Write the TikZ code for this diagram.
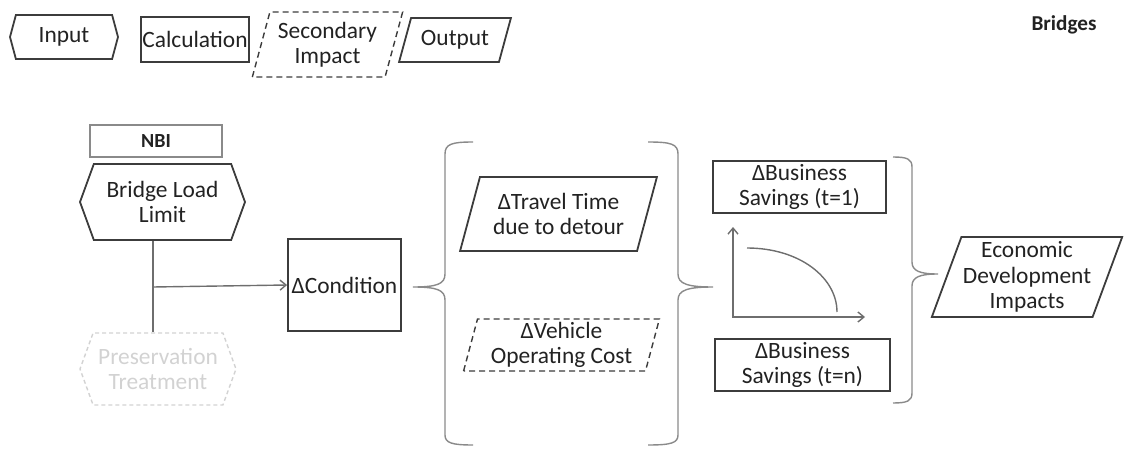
\documentclass[tikz,border=0pt]{standalone}
\usepackage{fontspec}
\setmainfont{Carlito}
\usetikzlibrary{shapes.geometric,shapes.symbols,arrows.meta}

\definecolor{ink}{HTML}{222222}
\definecolor{edge}{HTML}{3C3C3C}
\definecolor{soft}{HTML}{8A8A8A}
\definecolor{faint}{HTML}{D2D2D2}

\tikzset{
  txt/.style={font=\fontsize{11.7}{12.7}\selectfont, text=ink, align=center, inner sep=0.5pt},
  calc/.style={txt, draw=edge, line width=0.9pt, rectangle},
  inbox/.style={txt, draw=edge, line width=0.9pt, signal, signal to=east and west, signal pointer angle=140},
  outbox/.style={txt, draw=edge, line width=0.9pt, trapezium, trapezium stretches=true},
  secbox/.style={outbox, line width=0.7pt, dash pattern=on 3pt off 2pt},
  brace/.style={draw=soft, line width=0.7pt},
  link/.style={draw=soft!80!black, line width=0.7pt},
  barb/.style={-{Straight Barb[length=3pt,width=5pt]}}
}

\begin{document}
\begin{tikzpicture}[x=0.5pt,y=-0.5pt]
\useasboundingbox (0,0) rectangle (1125,449);

% legend
\node[inbox, signal pointer angle=150, minimum width=54pt, minimum height=22pt] (leg-in) at (64,37) {Input};
\node[calc, minimum width=54pt, minimum height=22.5pt] (leg-calc) at (195,39.5) {Calculation};
\node[secbox, trapezium left angle=72, trapezium right angle=108, minimum width=75.5pt, minimum height=32.5pt] (leg-sec) at (327.5,44.5) {Secondary\\Impact};
\node[outbox, trapezium left angle=65.5, trapezium right angle=114.5, minimum width=56pt, minimum height=22pt] (leg-out) at (455,40) {Output};
\node[txt, font=\fontsize{10.6}{12}\selectfont\bfseries] (title) at (1064,25) {Bridges};

% inputs
\node[calc, draw=soft, line width=0.7pt, font=\fontsize{10}{12}\selectfont\bfseries, minimum width=66pt, minimum height=16pt] (nbi) at (156,141) {NBI};
\node[inbox, minimum width=82.5pt, minimum height=38pt] (load) at (162.5,202) {Bridge Load\\Limit};
\node[inbox, draw=faint, text=faint, line width=0.7pt, dash pattern=on 2pt off 1.5pt, minimum width=78pt, minimum height=36pt] (pres) at (158,369) {Preservation\\Treatment};
\node[calc, minimum width=56.5pt, minimum height=46pt] (cond) at (344.5,285) {ΔCondition};

\coordinate (split) at (153,287);
\draw[link] (load.south -| split) -- (pres.north -| split);
\draw[link, barb] (split) -- (cond.west);

% first stage
\node[outbox, trapezium left angle=69, trapezium right angle=111, minimum width=98.5pt, minimum height=37pt] (travel) at (558.5,214) {ΔTravel Time\\due to detour};
\node[secbox, trapezium left angle=76, trapezium right angle=104, minimum width=98.5pt, minimum height=26pt] (voc) at (561.5,345) {ΔVehicle\\Operating Cost};

\draw[brace] (473,142) .. controls (452,142) and (445,144) .. (445,154) -- (445,274)
  .. controls (445,284) and (437,287) .. (413,287)
  .. controls (437,287) and (445,290) .. (445,300) -- (445,435)
  .. controls (445,443) and (452,445) .. (473,445);
\draw[brace] (648,142) .. controls (671,142) and (678,144) .. (678,154) -- (678,274)
  .. controls (678,284) and (688,287) .. (713,287)
  .. controls (688,287) and (678,290) .. (678,300) -- (678,435)
  .. controls (678,443) and (671,445) .. (648,445);

% business savings
\node[calc, minimum width=86.5pt, minimum height=26pt] (bus1) at (799.5,187) {ΔBusiness\\Savings (t=1)};
\node[calc, minimum width=87.5pt, minimum height=26pt] (busn) at (802.5,365) {ΔBusiness\\Savings (t=n)};

\coordinate (ytop) at (733,227);
\coordinate (orig) at (733,317);
\coordinate (xend) at (865,317);
\draw[link, {Straight Barb[length=3pt,width=5pt]}-{Straight Barb[length=3pt,width=5pt]}] (ytop) -- (orig) -- (xend);
\draw[link] (747,248) .. controls (800,248) and (837,278) .. (837,312);

\draw[brace] (893,157) .. controls (907,157) and (912,159) .. (912,167) -- (912,262)
  .. controls (912,271) and (920,274) .. (938,274)
  .. controls (920,274) and (912,277) .. (912,286) -- (912,393)
  .. controls (912,401) and (907,403) .. (893,403);

% output
\node[outbox, trapezium left angle=68, trapezium right angle=112, minimum width=96pt, minimum height=40pt] (econ) at (1027,277) {Economic\\Development\\Impacts};
\end{tikzpicture}
\end{document}
